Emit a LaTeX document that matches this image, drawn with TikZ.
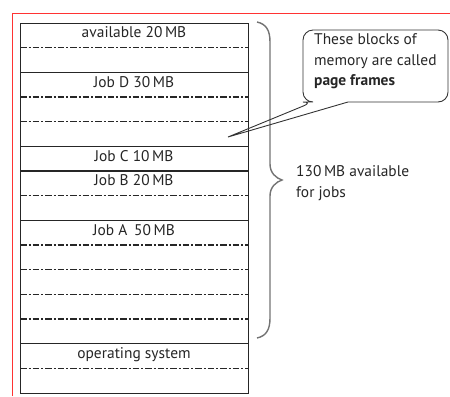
\documentclass[tikz,border=0pt]{standalone}
\usepackage{fontspec}
\setmainfont{PT Sans}
\begin{document}
\begin{tikzpicture}[x=1bp,y=-1bp,
  pageframe/.style={draw=red!80!white, line width=1bp},
  solidrule/.style={line width=1.2bp, draw=black!85},
  dashrule/.style={line width=1.2bp, draw=black!85, dash pattern=on 6.5bp off 2bp on 2bp off 2bp},
  slotlabel/.style={font=\fontsize{15.5}{17}\selectfont, text=black!85, inner sep=0pt, text height=10.5bp, text depth=3bp},
  notetext/.style={font=\fontsize{15.5}{21}\selectfont, text=black!85, inner sep=0pt, align=left},
  bracestyle/.style={draw=black!55, line width=1.4bp},
  balloon/.style={draw=black!80, line width=0.9bp}]
\useasboundingbox (0,0) rectangle (450,396);
% page border
\draw[pageframe] (12,396) -- (12,13) -- (450,13);

% memory column: 15 page frames between y=23 and y=393
\def\pitch{24.6667}
\foreach \k in {1,3,4,7,9,10,11,12,14}
  \draw[dashrule] (20,23+\k*\pitch) -- (248,23+\k*\pitch);
\foreach \k in {2,5,6,8,13}
  \draw[solidrule] (20,23+\k*\pitch) -- (248,23+\k*\pitch);
\node[draw=black!85, line width=1.2bp, minimum width=228bp, minimum height=370bp,
  anchor=north west, inner sep=0pt] (mem) at (20,23) {};

% slot labels
\node[slotlabel] (avail) at (134,23+0.45*\pitch) {available 20\,MB};
\node[slotlabel] (jobd)  at (134,23+2.45*\pitch) {Job D 30\,MB};
\node[slotlabel] (jobc)  at (134,23+5.45*\pitch) {Job C 10\,MB};
\node[slotlabel] (jobb)  at (134,23+6.45*\pitch) {Job B 20\,MB};
\node[slotlabel] (joba)  at (134,23+8.45*\pitch) {Job A\, 50\,MB};
\node[slotlabel] (os)    at (134,23+13.45*\pitch) {operating system};

% brace spanning the frames available for jobs
\draw[bracestyle] (257,22) .. controls (266,24) and (270,30) .. (270,42)
  -- (270,164) .. controls (270,173) and (276,178) .. (282,180)
  .. controls (276,182) and (270,187) .. (270,196)
  -- (270,318) .. controls (270,330) and (266,336) .. (257,338);
\node[notetext, anchor=west] (avail130) at (296,183) {130\,MB available\\for jobs};

% speech balloon
\coordinate (tip) at (228,137);
\draw[balloon, rounded corners=10bp] (348,102) -- (448,102) -- (448,30) -- (303,30) -- (303,102) -- (313,102)
  [sharp corners] -- (tip) -- (348,102);
\node[notetext, anchor=north west] (note) at (314,33) {These blocks of\\memory are called\\\textbf{page frames}};
\end{tikzpicture}
\end{document}
